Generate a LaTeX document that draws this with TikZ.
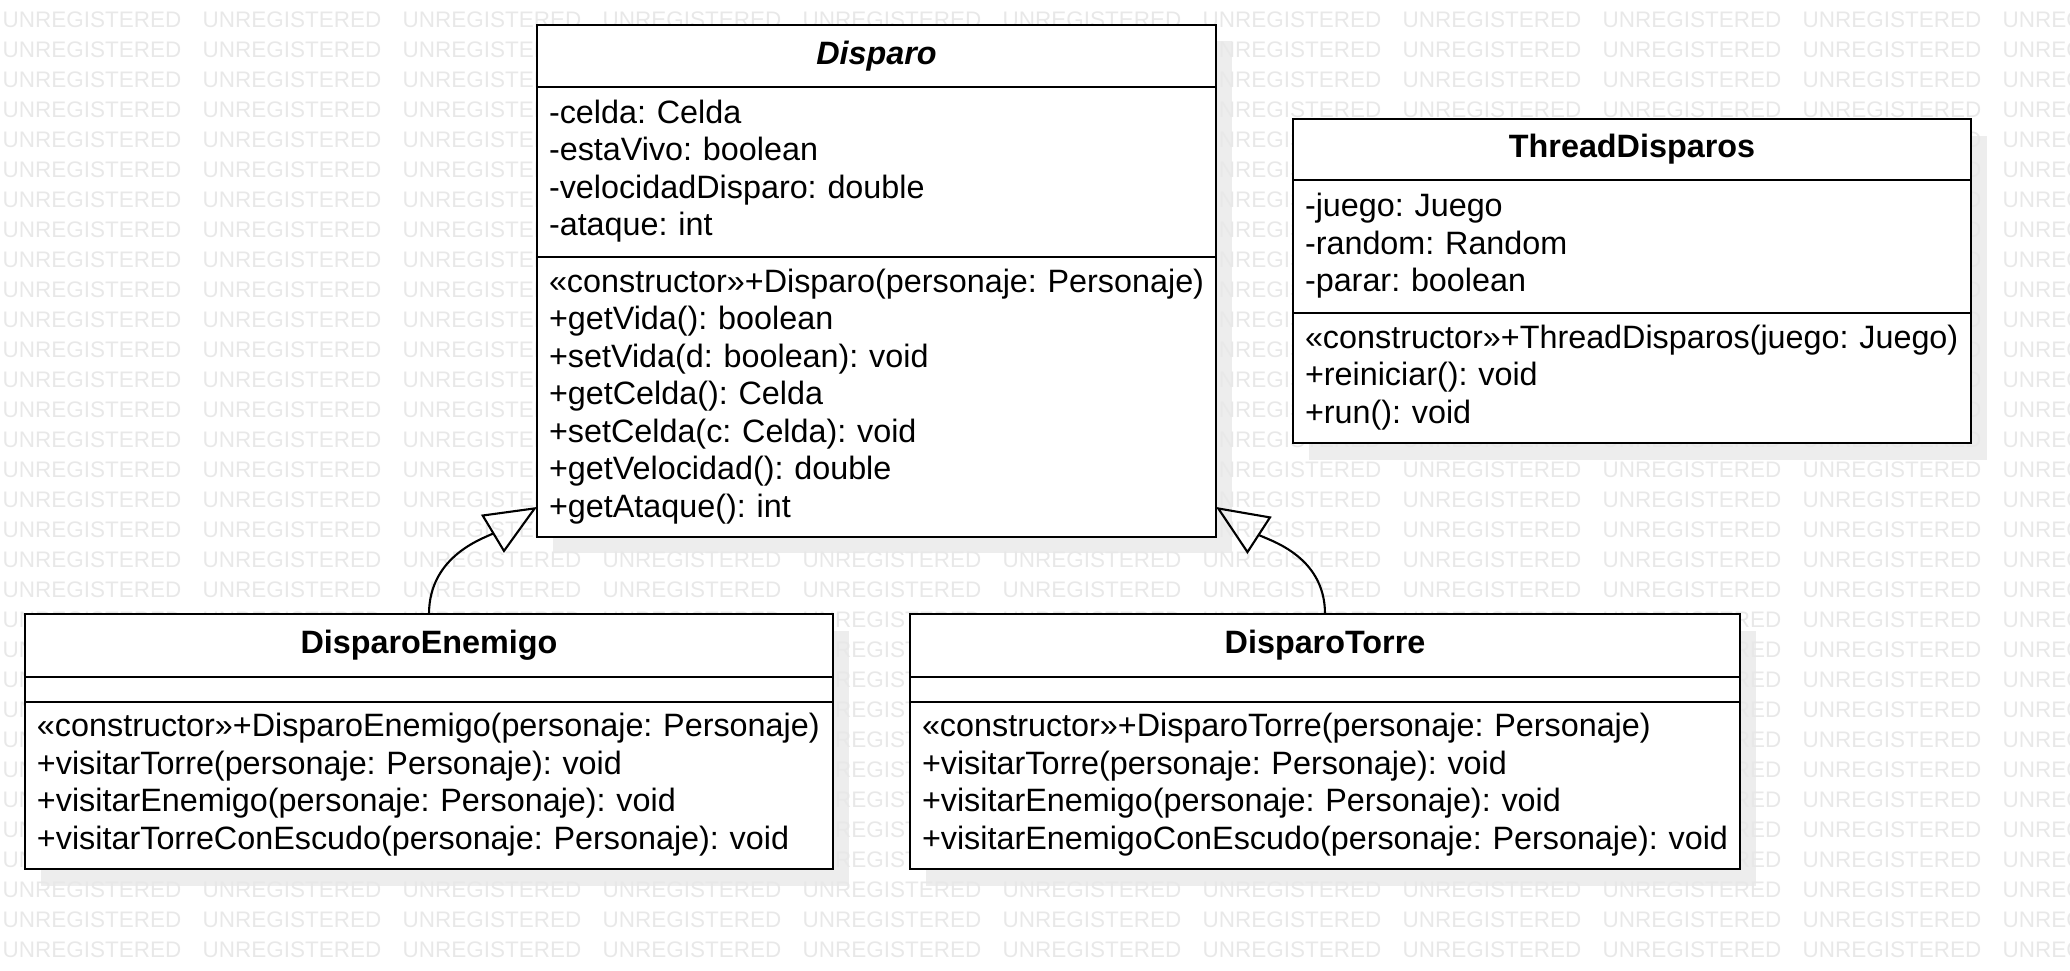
\documentclass[tikz,border=0pt]{standalone}
\usepackage{fontspec}
\setmainfont{Liberation Sans}
\usetikzlibrary{arrows.meta,positioning}
\pgfdeclarelayer{back}
\pgfsetlayers{back,main}
\newcommand{\classfont}{\fontsize{9.2pt}{10.67pt}\selectfont\frenchspacing}
\newcommand{\stampfont}{\fontsize{6.4pt}{7pt}\selectfont}
\newcommand{\members}[1]{\begin{tabular}{@{}l@{}}#1\end{tabular}}

\begin{document}
\begin{tikzpicture}[x=1cm, y=1cm,
    classhead/.style={draw, fill=white, line width=0.7pt, inner sep=0pt, outer sep=0pt,
      minimum height=0.62cm, font=\classfont\bfseries},
    compart/.style={draw, fill=white, line width=0.7pt, inner xsep=0.12cm,
      inner ysep=0pt, outer sep=0pt, align=left, font=\classfont},
    inherit/.style={line width=0.6pt, -{Triangle[open, length=0.52cm, width=0.44cm]}},
    boxshadow/.style={fill=black!7},
    stamp/.style={text=black!9, font=\stampfont, inner sep=0pt, anchor=west}]
  \useasboundingbox (0,0) rectangle (20.7,-9.7);
  \clip (0,0) rectangle (20.7,-9.7);
  % watermark rows behind the classes
  \foreach \row in {0,...,31}
    \foreach \col in {0,...,10}
      \node[stamp] (stamp-\row-\col) at (0.02+2*\col, -0.2-0.3*\row) {UNREGISTERED};

  % abstract base class
  \node[classhead, minimum width=6.79cm, anchor=north west] (disparo) at (5.37,-0.25)
    {\textit{Disparo}};
  \node[compart, below=0pt of disparo, text width=6.55cm, minimum height=1.70cm] (disparoattr)
    {\members{-celda: Celda\\-estaVivo: boolean\\-velocidadDisparo: double\\-ataque: int}};
  \node[compart, below=0pt of disparoattr, text width=6.55cm, minimum height=2.80cm] (disparoops)
    {\members{«constructor»+Disparo(personaje: Personaje)\\+getVida(): boolean\\
     +setVida(d: boolean): void\\+getCelda(): Celda\\+setCelda(c: Celda): void\\
     +getVelocidad(): double\\+getAtaque(): int}};

  \node[classhead, minimum width=6.78cm, minimum height=0.61cm, anchor=north west] (thread) at (12.93,-1.19)
    {ThreadDisparos};
  \node[compart, below=0pt of thread, text width=6.54cm, minimum height=1.33cm] (threadattr)
    {\members{-juego: Juego\\-random: Random\\-parar: boolean}};
  \node[compart, below=0pt of threadattr, text width=6.54cm, minimum height=1.30cm] (threadops)
    {\members{«constructor»+ThreadDisparos(juego: Juego)\\+reiniciar(): void\\+run(): void}};

  \node[classhead, minimum width=8.08cm, minimum height=0.63cm, anchor=north west] (enemigo) at (0.25,-6.14)
    {DisparoEnemigo};
  \node[compart, below=0pt of enemigo, text width=7.84cm, minimum height=0.25cm] (enemigoattr) {};
  \node[compart, below=0pt of enemigoattr, text width=7.84cm, minimum height=1.67cm] (enemigoops)
    {\members{«constructor»+DisparoEnemigo(personaje: Personaje)\\
     +visitarTorre(personaje: Personaje): void\\
     +visitarEnemigo(personaje: Personaje): void\\
     +visitarTorreConEscudo(personaje: Personaje): void}};

  \node[classhead, minimum width=8.30cm, minimum height=0.63cm, anchor=north west] (torre) at (9.10,-6.14)
    {DisparoTorre};
  \node[compart, below=0pt of torre, text width=8.06cm, minimum height=0.25cm] (torreattr) {};
  \node[compart, below=0pt of torreattr, text width=8.06cm, minimum height=1.67cm] (torreops)
    {\members{«constructor»+DisparoTorre(personaje: Personaje)\\
     +visitarTorre(personaje: Personaje): void\\
     +visitarEnemigo(personaje: Personaje): void\\
     +visitarEnemigoConEscudo(personaje: Personaje): void}};

  % drop shadows under the watermark
  \begin{pgfonlayer}{back}
    \fill[boxshadow] ([shift={(0.16,-0.16)}]disparo.north west) rectangle ([shift={(0.16,-0.16)}]disparoops.south east);
    \fill[boxshadow] ([shift={(0.16,-0.17)}]thread.north west) rectangle ([shift={(0.16,-0.17)}]threadops.south east);
    \fill[boxshadow] ([shift={(0.16,-0.17)}]enemigo.north west) rectangle ([shift={(0.16,-0.17)}]enemigoops.south east);
    \fill[boxshadow] ([shift={(0.16,-0.17)}]torre.north west) rectangle ([shift={(0.16,-0.17)}]torreops.south east);
  \end{pgfonlayer}

  % generalizations
  \draw[inherit] (enemigo.north) to[out=90, in=211] ([yshift=0.3cm]disparoops.south west);
  \draw[inherit] (torre.north) to[out=90, in=-33] ([yshift=0.3cm]disparoops.south east);
\end{tikzpicture}
\end{document}
